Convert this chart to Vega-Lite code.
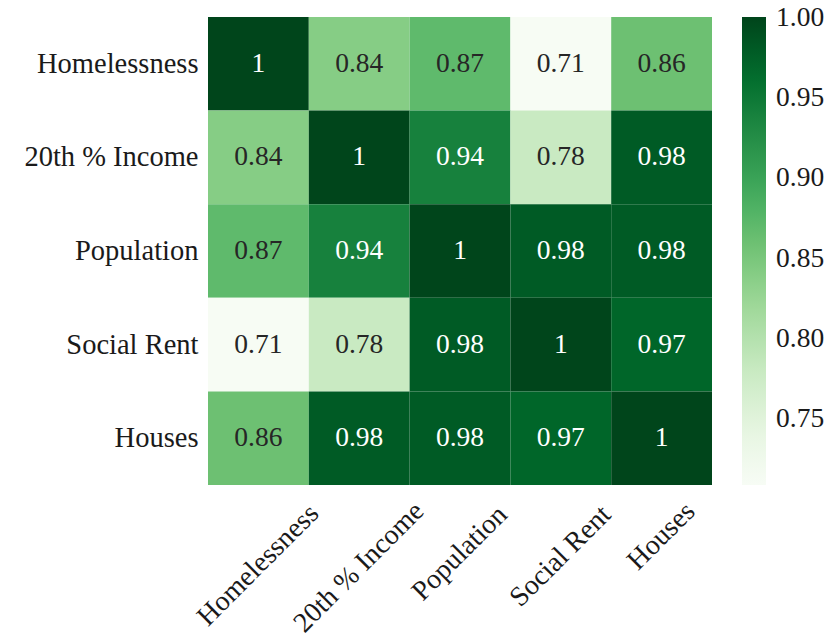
{
  "$schema": "https://vega.github.io/schema/vega-lite/v6.json",
  "width": 504,
  "height": 468,
  "autosize": "none",
  "padding": {"left": 208, "top": 17, "right": 116, "bottom": 153},
  "background": "white",
  "config": {
    "view": {"stroke": null},
    "font": "Liberation Serif",
    "axis": {"labelFont": "Liberation Serif", "labelFontSize": 28, "labelColor": "#1a1a1a", "ticks": false, "domain": false, "title": null, "grid": false},
    "legend": {"labelFont": "Liberation Serif", "labelFontSize": 27.5, "labelColor": "#1a1a1a"}
  },
  "data": {
    "values": [
      {"row": "Homelessness", "col": "Homelessness", "v": 1},
      {"row": "Homelessness", "col": "20th % Income", "v": 0.84},
      {"row": "Homelessness", "col": "Population", "v": 0.87},
      {"row": "Homelessness", "col": "Social Rent", "v": 0.71},
      {"row": "Homelessness", "col": "Houses", "v": 0.86},
      {"row": "20th % Income", "col": "Homelessness", "v": 0.84},
      {"row": "20th % Income", "col": "20th % Income", "v": 1},
      {"row": "20th % Income", "col": "Population", "v": 0.94},
      {"row": "20th % Income", "col": "Social Rent", "v": 0.78},
      {"row": "20th % Income", "col": "Houses", "v": 0.98},
      {"row": "Population", "col": "Homelessness", "v": 0.87},
      {"row": "Population", "col": "20th % Income", "v": 0.94},
      {"row": "Population", "col": "Population", "v": 1},
      {"row": "Population", "col": "Social Rent", "v": 0.98},
      {"row": "Population", "col": "Houses", "v": 0.98},
      {"row": "Social Rent", "col": "Homelessness", "v": 0.71},
      {"row": "Social Rent", "col": "20th % Income", "v": 0.78},
      {"row": "Social Rent", "col": "Population", "v": 0.98},
      {"row": "Social Rent", "col": "Social Rent", "v": 1},
      {"row": "Social Rent", "col": "Houses", "v": 0.97},
      {"row": "Houses", "col": "Homelessness", "v": 0.86},
      {"row": "Houses", "col": "20th % Income", "v": 0.98},
      {"row": "Houses", "col": "Population", "v": 0.98},
      {"row": "Houses", "col": "Social Rent", "v": 0.97},
      {"row": "Houses", "col": "Houses", "v": 1}
    ]
  },
  "encoding": {
    "x": {
      "field": "col", "type": "nominal",
      "sort": ["Homelessness", "20th % Income", "Population", "Social Rent", "Houses"],
      "scale": {"paddingInner": 0, "paddingOuter": 0},
      "axis": {
        "labelAngle": -45,
        "labelAlign": "center",
        "labelBaseline": "middle",
        "labelPadding": {
          "condition": [
            {"test": "datum.value == 'Homelessness'", "value": 80},
            {"test": "datum.value == '20th % Income'", "value": 82},
            {"test": "datum.value == 'Population'", "value": 68},
            {"test": "datum.value == 'Social Rent'", "value": 71}
          ],
          "value": 51
        }
      }
    },
    "y": {
      "field": "row", "type": "nominal",
      "sort": ["Homelessness", "20th % Income", "Population", "Social Rent", "Houses"],
      "scale": {"paddingInner": 0, "paddingOuter": 0},
      "axis": {"labelPadding": 10, "labelFontSize": 28.5}
    }
  },
  "layer": [
    {
      "mark": {"type": "rect"},
      "encoding": {
        "color": {
          "field": "v", "type": "quantitative",
          "scale": {
            "domain": [0.709, 1.0006],
            "range": ["#f7fcf5", "#e5f5e0", "#c7e9c0", "#a1d99b", "#74c476", "#41ab5d", "#238b45", "#006d2c", "#00441b"],
            "interpolate": "rgb"
          },
          "legend": {
            "title": null,
            "orient": "right",
            "direction": "vertical",
            "gradientLength": 468,
            "gradientThickness": 24,
            "gradientStrokeWidth": 0,
            "offset": 30,
            "values": [0.75, 0.8, 0.85, 0.9, 0.95, 1.0],
            "format": ".2f",
            "labelOffset": 10,
            "labelBaseline": "middle"
          }
        }
      }
    },
    {
      "mark": {"type": "text", "font": "Liberation Serif", "fontSize": 27.5},
      "encoding": {
        "text": {"field": "v", "type": "quantitative", "format": ".2~f"},
        "color": {
          "condition": {"test": "datum.v > 0.9", "value": "#ffffff"},
          "value": "#262626"
        }
      }
    }
  ]
}
